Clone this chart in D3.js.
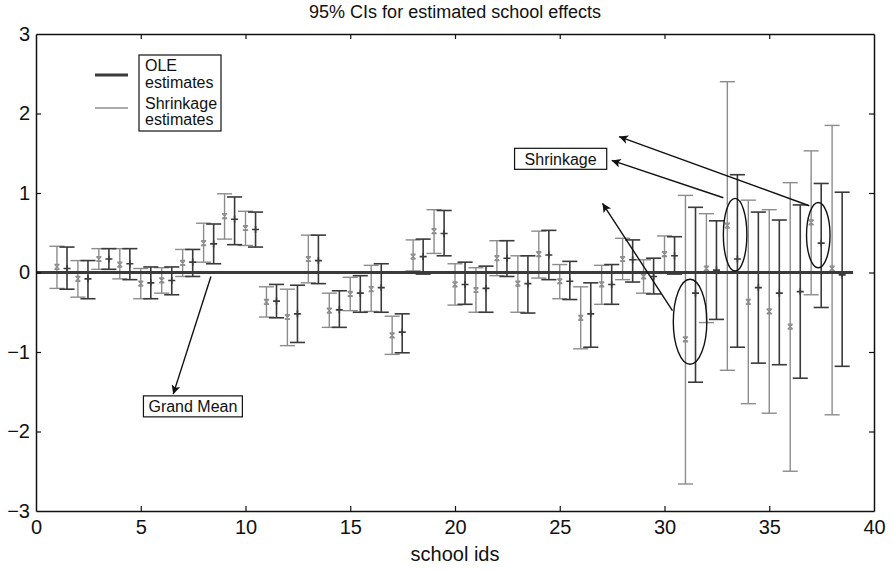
<!DOCTYPE html>
<html><head><meta charset="utf-8">
<script src="https://cdn.jsdelivr.net/npm/d3@7"></script>
<style>
body{margin:0;background:#fff;}
text{font-family:"Liberation Sans",Arial,Helvetica,sans-serif;fill:#111;}
</style>
</head><body>
<svg id="chart" width="893" height="570"></svg>
<script>
// ---- data ----
const schoolIds = d3.range(1, 39);
// grey series (x markers, at school id)
const shrinkMean = [0.07,-0.08,0.17,0.10,-0.14,-0.10,0.12,0.37,0.71,0.56,-0.37,-0.56,0.17,-0.48,-0.27,-0.21,-0.79,0.20,0.52,-0.15,-0.22,0.18,-0.14,0.23,-0.11,-0.57,-0.15,0.17,-0.05,0.23,-0.84,0.05,0.59,-0.37,-0.49,-0.68,0.63,0.05];
const shrinkLow  = [-0.20,-0.31,0.04,-0.08,-0.33,-0.26,-0.05,0.13,0.42,0.34,-0.56,-0.92,-0.13,-0.69,-0.48,-0.49,-1.03,0.02,0.24,-0.41,-0.50,-0.04,-0.50,-0.07,-0.33,-0.96,-0.40,-0.09,-0.26,0.01,-2.66,-0.63,-1.23,-1.65,-1.77,-2.50,-0.28,-1.79];
const shrinkHigh = [0.33,0.15,0.30,0.30,0.05,0.06,0.29,0.62,0.99,0.77,-0.18,-0.21,0.47,-0.26,-0.06,0.09,-0.55,0.41,0.79,0.11,0.06,0.40,0.21,0.52,0.10,-0.18,0.09,0.43,0.16,0.46,0.97,0.74,2.40,0.91,0.79,1.13,1.53,1.85];
// dark series (+ markers, beside school id)
const oleMean = [0.05,-0.08,0.17,0.11,-0.13,-0.10,0.13,0.36,0.67,0.54,-0.36,-0.52,0.15,-0.47,-0.26,-0.19,-0.75,0.20,0.49,-0.15,-0.20,0.18,-0.14,0.22,-0.11,-0.52,-0.15,0.16,-0.05,0.21,-0.26,0.03,0.17,-0.19,-0.26,-0.24,0.37,-0.03];
const oleLow  = [-0.21,-0.33,0.04,-0.09,-0.33,-0.28,-0.05,0.11,0.35,0.32,-0.57,-0.88,-0.14,-0.69,-0.50,-0.50,-1.01,-0.02,0.21,-0.40,-0.50,-0.05,-0.51,-0.09,-0.34,-0.94,-0.40,-0.12,-0.27,-0.02,-1.38,-0.59,-0.94,-1.14,-1.16,-1.33,-0.44,-1.18];
const oleHigh = [0.32,0.15,0.30,0.30,0.07,0.07,0.29,0.61,0.95,0.76,-0.15,-0.16,0.47,-0.23,-0.04,0.11,-0.52,0.42,0.78,0.13,0.08,0.40,0.21,0.53,0.14,-0.13,0.10,0.41,0.18,0.45,0.82,0.65,1.23,0.76,0.66,0.85,1.12,1.01];
const grandMean = 0;
const xTicks = [0,5,10,15,20,25,30,35,40];
const yTicks = [-3,-2,-1,0,1,2,3];
const titleText = "95% CIs for estimated school effects";
const xLabel = "school ids";
const legendLabels = [["OLE","estimates"],["Shrinkage","estimates"]];
// annotations in data coordinates
const ellipseCx = [31.22, 33.37, 37.34];
const ellipseCy = [-0.62, 0.475, 0.47];
const ellipseRx = [0.80, 0.56, 0.56];
const ellipseRy = [0.535, 0.457, 0.41];
const arrowFrom = [[8.35,-0.05],[36.91,0.84],[32.81,0.94],[30.38,-0.48]];
const arrowTo   = [[6.55,-1.53],[27.83,1.71],[27.48,1.41],[27.04,0.87]];
const boxLabels = ["Grand Mean","Shrinkage"];
const boxCenter = [[7.49,-1.684],[25.04,1.43]];

// ---- drawing ----
const svg = d3.select("#chart");
const W = 893, H = 570;
const m = {left:36, right:874, top:34, bottom:511};
const x = d3.scaleLinear().domain([0,40]).range([m.left, m.right]);
const y = d3.scaleLinear().domain([-3,3]).range([m.bottom, m.top]);
const offset = 0.48, cap = 0.36;
const grey = "#8c8c8c", dark = "#3a3a3a";

svg.append("rect").attr("width",W).attr("height",H).attr("fill","#fff");

// defs arrow
svg.append("defs").append("marker")
  .attr("id","ah").attr("viewBox","0 0 10 10").attr("refX",10).attr("refY",5)
  .attr("markerWidth",12).attr("markerHeight",9).attr("markerUnits","userSpaceOnUse")
  .attr("orient","auto")
  .append("path").attr("d","M0,0 L10,5 L0,10 L2.5,5 Z").attr("fill","#111");

function drawSeries(mean, lo, hi, dx, color, sw, marker){
  const g = svg.append("g").attr("stroke", color).attr("stroke-width", sw).attr("fill","none");
  schoolIds.forEach((s,i)=>{
    const cx = x(s+dx);
    g.append("line").attr("x1",cx).attr("x2",cx).attr("y1",y(lo[i])).attr("y2",y(hi[i]));
    [lo[i],hi[i]].forEach(v=>{
      g.append("line").attr("x1",x(s+dx-cap)).attr("x2",x(s+dx+cap)).attr("y1",y(v)).attr("y2",y(v));
    });
    const cy = y(mean[i]);
    if(marker==="x"){
      g.append("path").attr("d",`M${cx-2.5},${cy-2.5}L${cx+2.5},${cy+2.5}M${cx-2.5},${cy+2.5}L${cx+2.5},${cy-2.5}M${cx-2.5},${cy-2.5}L${cx+2.5},${cy-2.5}M${cx-2.5},${cy+2.5}L${cx+2.5},${cy+2.5}`).attr("stroke-width",1.2);
    } else {
      g.append("path").attr("d",`M${cx-3.5},${cy}L${cx+3.5},${cy}M${cx},${cy-3.5}L${cx},${cy+3.5}`).attr("stroke-width",1.6);
    }
  });
}
drawSeries(shrinkMean, shrinkLow, shrinkHigh, 0, grey, 1.4, "x");
drawSeries(oleMean, oleLow, oleHigh, offset, dark, 1.6, "+");

// grand mean line
svg.append("line").attr("x1",x(0)).attr("x2",x(39)).attr("y1",y(grandMean)).attr("y2",y(grandMean))
  .attr("stroke","#3a3a3a").attr("stroke-width",3);

// axes
const axFont = 20;
const fmt = d => (d < 0 ? "\u2212" : "") + Math.abs(d);
const gB = svg.append("g").attr("transform",`translate(0,${m.bottom})`)
  .call(d3.axisBottom(x).tickValues(xTicks).tickFormat(fmt).tickSize(-5).tickSizeOuter(0).tickPadding(9));
const gT = svg.append("g").attr("transform",`translate(0,${m.top})`)
  .call(d3.axisTop(x).tickValues(xTicks).tickSize(-5).tickSizeOuter(0).tickFormat(""));
const gL = svg.append("g").attr("transform",`translate(${m.left},0)`)
  .call(d3.axisLeft(y).tickValues(yTicks).tickFormat(fmt).tickSize(-5).tickSizeOuter(0).tickPadding(6));
const gR = svg.append("g").attr("transform",`translate(${m.right},0)`)
  .call(d3.axisRight(y).tickValues(yTicks).tickSize(-5).tickSizeOuter(0).tickFormat(""));
[gB,gT,gL,gR].forEach(g=>{
  g.selectAll("path.domain").attr("stroke","#111").attr("stroke-width",1.5);
  g.selectAll(".tick line").attr("stroke","#111").attr("stroke-width",1.2);
  g.selectAll("text").attr("font-size",axFont).attr("fill","#111")
   .attr("font-family","'Liberation Sans',Arial,sans-serif");
});
[gB,gT].forEach(g=>g.selectAll(".tick").filter(d=>d===0||d===40).select("line").remove());
[gL,gR].forEach(g=>g.selectAll(".tick").filter(d=>d===-3||d===3).select("line").remove());

// title & label
svg.append("text").attr("x",(m.left+m.right)/2).attr("y",18).attr("text-anchor","middle")
  .attr("font-size",18).text(titleText);
svg.append("text").attr("x",(m.left+m.right)/2).attr("y",561).attr("text-anchor","middle")
  .attr("font-size",20).text(xLabel);

// legend
const lg = svg.append("g");
lg.append("line").attr("x1",95).attr("x2",128).attr("y1",75).attr("y2",75).attr("stroke",dark).attr("stroke-width",3);
lg.append("line").attr("x1",95).attr("x2",128).attr("y1",108).attr("y2",108).attr("stroke",grey).attr("stroke-width",1.5);
lg.append("rect").attr("x",139).attr("y",55).attr("width",82).attr("height",76).attr("fill","#fff").attr("stroke","#111").attr("stroke-width",1.2);
const lgY = [[71,88],[109,125]];
legendLabels.forEach((lines,i)=>{
  lines.forEach((t,j)=>{
    lg.append("text").attr("x",145).attr("y",lgY[i][j]).attr("font-size",16).text(t);
  });
});

// ellipses
const ag = svg.append("g").attr("fill","none").attr("stroke","#111").attr("stroke-width",1.4);
ellipseCx.forEach((c,i)=>{
  ag.append("ellipse").attr("cx",x(c)).attr("cy",y(ellipseCy[i]))
    .attr("rx",x(ellipseRx[i])-x(0)).attr("ry",y(0)-y(ellipseRy[i]));
});
// arrows
arrowFrom.forEach((f,i)=>{
  const t = arrowTo[i];
  ag.append("line").attr("x1",x(f[0])).attr("y1",y(f[1])).attr("x2",x(t[0])).attr("y2",y(t[1]))
    .attr("marker-end","url(#ah)");
});
// text boxes
const boxPad = [5,10];
boxLabels.forEach((lab,i)=>{
  const cx = x(boxCenter[i][0]), cy = y(boxCenter[i][1]);
  const g = svg.append("g");
  const r = g.append("rect").attr("fill","#fff").attr("stroke","#111").attr("stroke-width",1.2);
  const t = g.append("text").attr("x",cx).attr("y",cy).attr("dy","0.36em").attr("text-anchor","middle")
    .attr("font-size",16).text(lab);
  const b = t.node().getBBox();
  r.attr("x",b.x-boxPad[i]).attr("y",cy-10.5).attr("width",b.width+2*boxPad[i]).attr("height",21);
});
</script>
</body></html>
